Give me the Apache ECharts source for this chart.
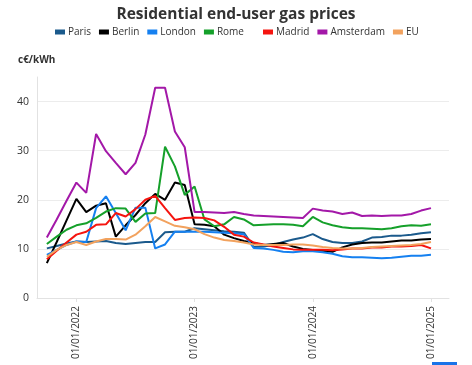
<!DOCTYPE html>
<html>
<head>
<meta charset="utf-8">
<script src="https://cdn.jsdelivr.net/npm/echarts@6/dist/echarts.min.js"></script>
<style>
html,body{margin:0;padding:0;background:#fff;}
#chart{width:472px;height:365px;}
</style>
</head>
<body>
<div id="chart"></div>
<script>
// Monthly data, Oct 2021 .. Jan 2025 (40 months); x = months relative to Jan 2022
const startMonthOffset = -3;
const tickValues = [0, 12, 24, 36];
const tickLabels = ["01/01/2022", "01/01/2023", "01/01/2024", "01/01/2025"];
const seriesNames = ["Paris", "Berlin", "London", "Rome", "Madrid", "Amsterdam", "EU"];
const seriesColors = ["#1b5a8c", "#000000", "#1580f0", "#15a02a", "#f5140f", "#a318a8", "#f2a25e"];

const paris = [10.1, 10.6, 11.1,
  11.5, 11.4, 11.5, 11.6, 11.2, 11.0, 11.2, 11.4, 11.4, 13.4, 13.5, 13.5,
  14.2, 14.0, 13.8, 13.6, 13.5, 13.3, 10.4, 10.5, 10.8, 11.4, 11.9, 12.3,
  13.0, 12.0, 11.4, 11.2, 11.2, 11.5, 12.3, 12.4, 12.7, 12.7, 12.9, 13.2,
  13.4];
const berlin = [7.1, 11.4, 15.8,
  20.2, 17.5, 18.8, 19.3, 12.5, 14.8, 16.9, 19.3, 21.2, 20.0, 23.5, 23.0,
  15.0, 14.9, 14.6, 12.9, 12.2, 11.6, 11.2, 10.8, 11.0, 11.2, 10.5, 10.0,
  9.8, 9.6, 9.4, 10.3, 10.9, 11.2, 11.3, 11.3, 11.5, 11.7, 11.7, 11.9,
  12.0];
const london = [8.8, 9.8, 10.8,
  11.5, 11.4, 18.3, 20.7, 17.3, 13.8, 18.4, 18.4, 10.1, 10.9, 13.5, 13.5,
  13.5, 13.5, 13.4, 13.3, 13.2, 13.0, 10.2, 10.1, 9.8, 9.4, 9.3, 9.5,
  9.5, 9.3, 9.0, 8.5, 8.3, 8.3, 8.2, 8.1, 8.2, 8.4, 8.6, 8.6,
  8.8];
const rome = [11.0, 12.5, 13.9,
  14.8, 15.2, 16.3, 17.6, 18.3, 18.2, 15.5, 17.2, 17.3, 30.8, 26.8, 21.0,
  22.7, 16.0, 14.6, 15.0, 16.5, 16.0, 14.8, 14.9, 15.0, 15.0, 14.9, 14.6,
  16.5, 15.4, 14.8, 14.4, 14.2, 14.2, 14.1, 14.0, 14.2, 14.6, 14.8, 14.7,
  15.0];
const madrid = [7.9, 9.6, 11.3,
  12.9, 13.5, 14.9, 15.0, 17.3, 16.6, 18.1, 20.0, 20.8, 18.3, 15.9, 16.3,
  16.4, 16.3, 15.8, 14.5, 12.9, 12.5, 11.3, 10.9, 10.5, 10.2, 9.9, 9.8,
  9.8, 9.8, 9.7, 9.9, 10.1, 10.1, 10.3, 10.3, 10.5, 10.5, 10.6, 10.8,
  10.1];
const amsterdam = [12.3, 16.0, 19.8,
  23.5, 21.4, 33.4, 29.9, 27.5, 25.2, 27.5, 33.3, 42.8, 42.8, 33.9, 30.7,
  17.5, 17.5, 17.4, 17.3, 17.5, 17.1, 16.8, 16.7, 16.6, 16.5, 16.4, 16.3,
  18.2, 17.8, 17.6, 17.1, 17.4, 16.7, 16.8, 16.7, 16.8, 16.8, 17.1, 17.8,
  18.3];
const eu = [8.4, 9.8, 10.8,
  11.4, 10.8, 11.5, 12.0, 12.0, 11.9, 12.9, 14.6, 16.5, 15.6, 14.7, 14.4,
  14.0, 13.0, 12.3, 11.8, 11.6, 11.3, 10.9, 10.8, 10.8, 10.8, 10.9, 10.9,
  10.7, 10.4, 10.2, 10.1, 10.1, 10.2, 10.4, 10.5, 10.6, 10.7, 10.8, 11.0,
  11.4];

const allValues = [paris, berlin, london, rome, madrid, amsterdam, eu];

const chart = echarts.init(document.getElementById('chart'), null, {renderer: 'canvas'});
const FONT = '"Open Sans", "Noto Sans", sans-serif';

const series = seriesNames.map((name, k) => ({
  name: name,
  type: 'line',
  symbol: 'none',
  smooth: false,
  color: seriesColors[k],
  lineStyle: {width: 2, color: seriesColors[k]},
  data: allValues[k].map((v, i) => [i + startMonthOffset, v])
}));

const legendCommon = {
  top: 27,
  icon: 'rect',
  itemWidth: 10,
  itemHeight: 5,
  itemGap: 8,
  padding: 0,
  textStyle: {fontFamily: FONT, fontSize: 10, color: '#333', padding: [0, 0, 0, -2]}
};

chart.setOption({
  animation: false,
  backgroundColor: '#fff',
  title: {
    text: 'Residential end-user gas prices',
    left: 'center',
    top: 2,
    textStyle: {fontFamily: FONT, fontSize: 15.5, fontWeight: 'bold', color: '#333'}
  },
  legend: [
    Object.assign({}, legendCommon, {left: 55, data: ["Paris", "Berlin", "London", "Rome"]}),
    Object.assign({}, legendCommon, {left: 263, data: ["Madrid", "Amsterdam", "EU"]})
  ],
  graphic: [
    {type: 'text', left: 18, top: 55, style: {text: 'c€/kWh', fontFamily: FONT, fontSize: 10, fontWeight: 'bold', fill: '#333'}},
    {type: 'rect', shape: {x: 432, y: 362, width: 25, height: 3}, style: {fill: '#1a73e8'}}
  ],
  grid: {left: 37, right: 23, top: 77, bottom: 67, containLabel: false, outerBoundsMode: 'none'},
  xAxis: {
    type: 'value',
    min: -4,
    max: 37.83,
    axisLine: {show: true, onZero: false, lineStyle: {color: '#e2e2e2', width: 1}},
    axisTick: {show: true, customValues: tickValues, length: 4, lineStyle: {color: '#e2e2e2'}},
    axisLabel: {
      customValues: tickValues,
      rotate: 90,
      margin: 8,
      fontFamily: FONT,
      fontSize: 10,
      color: '#333',
      formatter: v => tickLabels[tickValues.indexOf(Math.round(v))] || ''
    },
    splitLine: {show: false}
  },
  yAxis: {
    type: 'value',
    min: 0,
    max: 45,
    interval: 10,
    axisLine: {show: true, onZero: false, lineStyle: {color: '#e2e2e2', width: 1}},
    axisTick: {show: false},
    axisLabel: {showMaxLabel: false, margin: 8, fontFamily: FONT, fontSize: 10.5, color: '#333'},
    splitLine: {show: true, showMaxLine: false, lineStyle: {color: '#ececec', width: 1}}
  },
  series: series
});
</script>
</body>
</html>
